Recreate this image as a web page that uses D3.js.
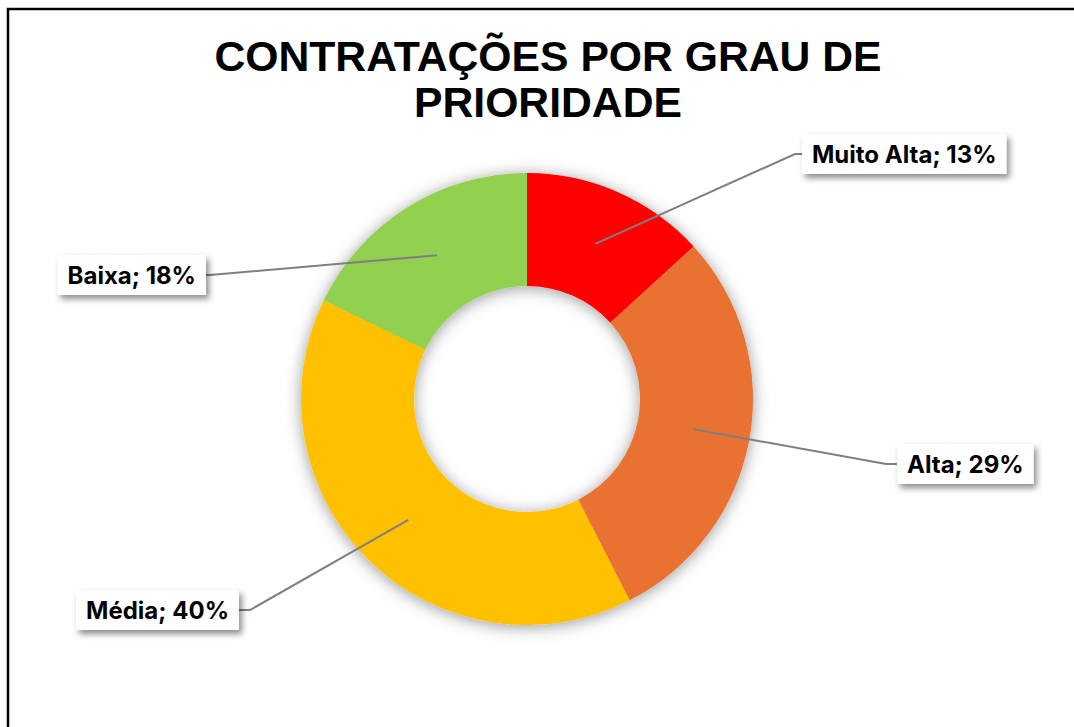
<!DOCTYPE html>
<html>
<head>
<meta charset="utf-8">
<script src="https://cdn.jsdelivr.net/npm/d3@7"></script>
<style>
  html, body { margin: 0; padding: 0; background: #fff; }
  svg { display: block; }
</style>
</head>
<body>
<script>
// categorias e valores (estimados a partir do grafico)
var categories = ["Muito Alta", "Alta", "Média", "Baixa"];
var values = [13.2, 29.3, 39.7, 17.8];
var colors = ["#FF0000", "#E97132", "#FFC000", "#92D050"];
var titleLines = ["CONTRATAÇÕES POR GRAU DE", "PRIORIDADE"];

// posicao das caixas de rotulo (esquerda/direita, topo) e cotovelo da linha
var labelLayout = [
  { x: 802, y: 134, side: "left", elbow: 795 },
  { x: 897, y: 444, side: "left", elbow: 886 },
  { x: 239, y: 590, side: "right", elbow: 250 },
  { x: 206, y: 255, side: "right", elbow: 210 }
];

var W = 1074, H = 727;
var cx = 527, cy = 399, rOut = 226, rIn = 113;
var boxH = 40, padX = 10;

var svg = d3.select("body").append("svg")
  .attr("width", W)
  .attr("height", H);

var defs = svg.append("defs");
defs.append("filter")
  .attr("id", "glow")
  .attr("x", "-20%").attr("y", "-20%")
  .attr("width", "140%").attr("height", "140%")
  .append("feDropShadow")
  .attr("dx", 0).attr("dy", 2)
  .attr("stdDeviation", 8)
  .attr("flood-color", "#000")
  .attr("flood-opacity", 0.4);

defs.append("filter")
  .attr("id", "boxshadow")
  .attr("x", "-20%").attr("y", "-30%")
  .attr("width", "150%").attr("height", "180%")
  .append("feDropShadow")
  .attr("dx", 3).attr("dy", 4)
  .attr("stdDeviation", 3)
  .attr("flood-color", "#000")
  .attr("flood-opacity", 0.45);

// borda externa
svg.append("rect")
  .attr("x", 8).attr("y", 9)
  .attr("width", W + 20).attr("height", H + 20)
  .attr("fill", "none")
  .attr("stroke", "#000")
  .attr("stroke-width", 2.5);

// titulo
svg.append("text")
  .attr("x", 548)
  .attr("font-family", "Liberation Sans, Arial, sans-serif")
  .attr("font-weight", "bold")
  .attr("font-size", "42.7px")
  .attr("text-anchor", "middle")
  .attr("fill", "#000")
  .selectAll("tspan")
  .data(titleLines)
  .enter()
  .append("tspan")
  .attr("x", 548)
  .attr("y", function(d, i) { return 71 + i * 46; })
  .text(function(d) { return d; });

var total = d3.sum(values);
var fmt = d3.format(".0%");

var pie = d3.pie().sort(null).value(function(d) { return d; });
var arcs = pie(values);

var arc = d3.arc().innerRadius(rIn).outerRadius(rOut);
var midArc = d3.arc().innerRadius((rIn + rOut) / 2).outerRadius((rIn + rOut) / 2);

var g = svg.append("g").attr("transform", "translate(" + cx + "," + cy + ")");

g.append("g")
  .attr("filter", "url(#glow)")
  .selectAll("path")
  .data(arcs)
  .enter()
  .append("path")
  .attr("d", arc)
  .attr("fill", function(d, i) { return colors[i]; });

// linhas de chamada
var leaders = svg.append("g");
var labels = svg.append("g");

arcs.forEach(function(d, i) {
  var c = midArc.centroid(d);
  var sx = cx + c[0], sy = cy + c[1];
  var L = labelLayout[i];
  var ly = L.y + boxH / 2;

  var txt = labels.append("g");
  var rect = txt.append("rect")
    .attr("fill", "#fff")
    .attr("filter", "url(#boxshadow)");
  var t = txt.append("text")
    .attr("font-family", "Inter, Roboto, sans-serif")
    .attr("font-weight", "bold")
    .attr("font-size", "24px")
    .attr("fill", "#000")
    .text(categories[i] + "; " + fmt(values[i] / total));
  var tw = t.node().getComputedTextLength();
  var bw = tw + padX * 2;
  var bx = L.side === "left" ? L.x : L.x - bw;
  rect.attr("x", bx).attr("y", L.y).attr("width", bw).attr("height", boxH);
  t.attr("x", bx + padX).attr("y", L.y + 29);

  leaders.append("polyline")
    .attr("points", [[sx, sy], [L.elbow, ly], [L.x, ly]].map(function(p) { return p.join(","); }).join(" "))
    .attr("fill", "none")
    .attr("stroke", "#7F7F7F")
    .attr("stroke-width", 2);
});
</script>
</body>
</html>
